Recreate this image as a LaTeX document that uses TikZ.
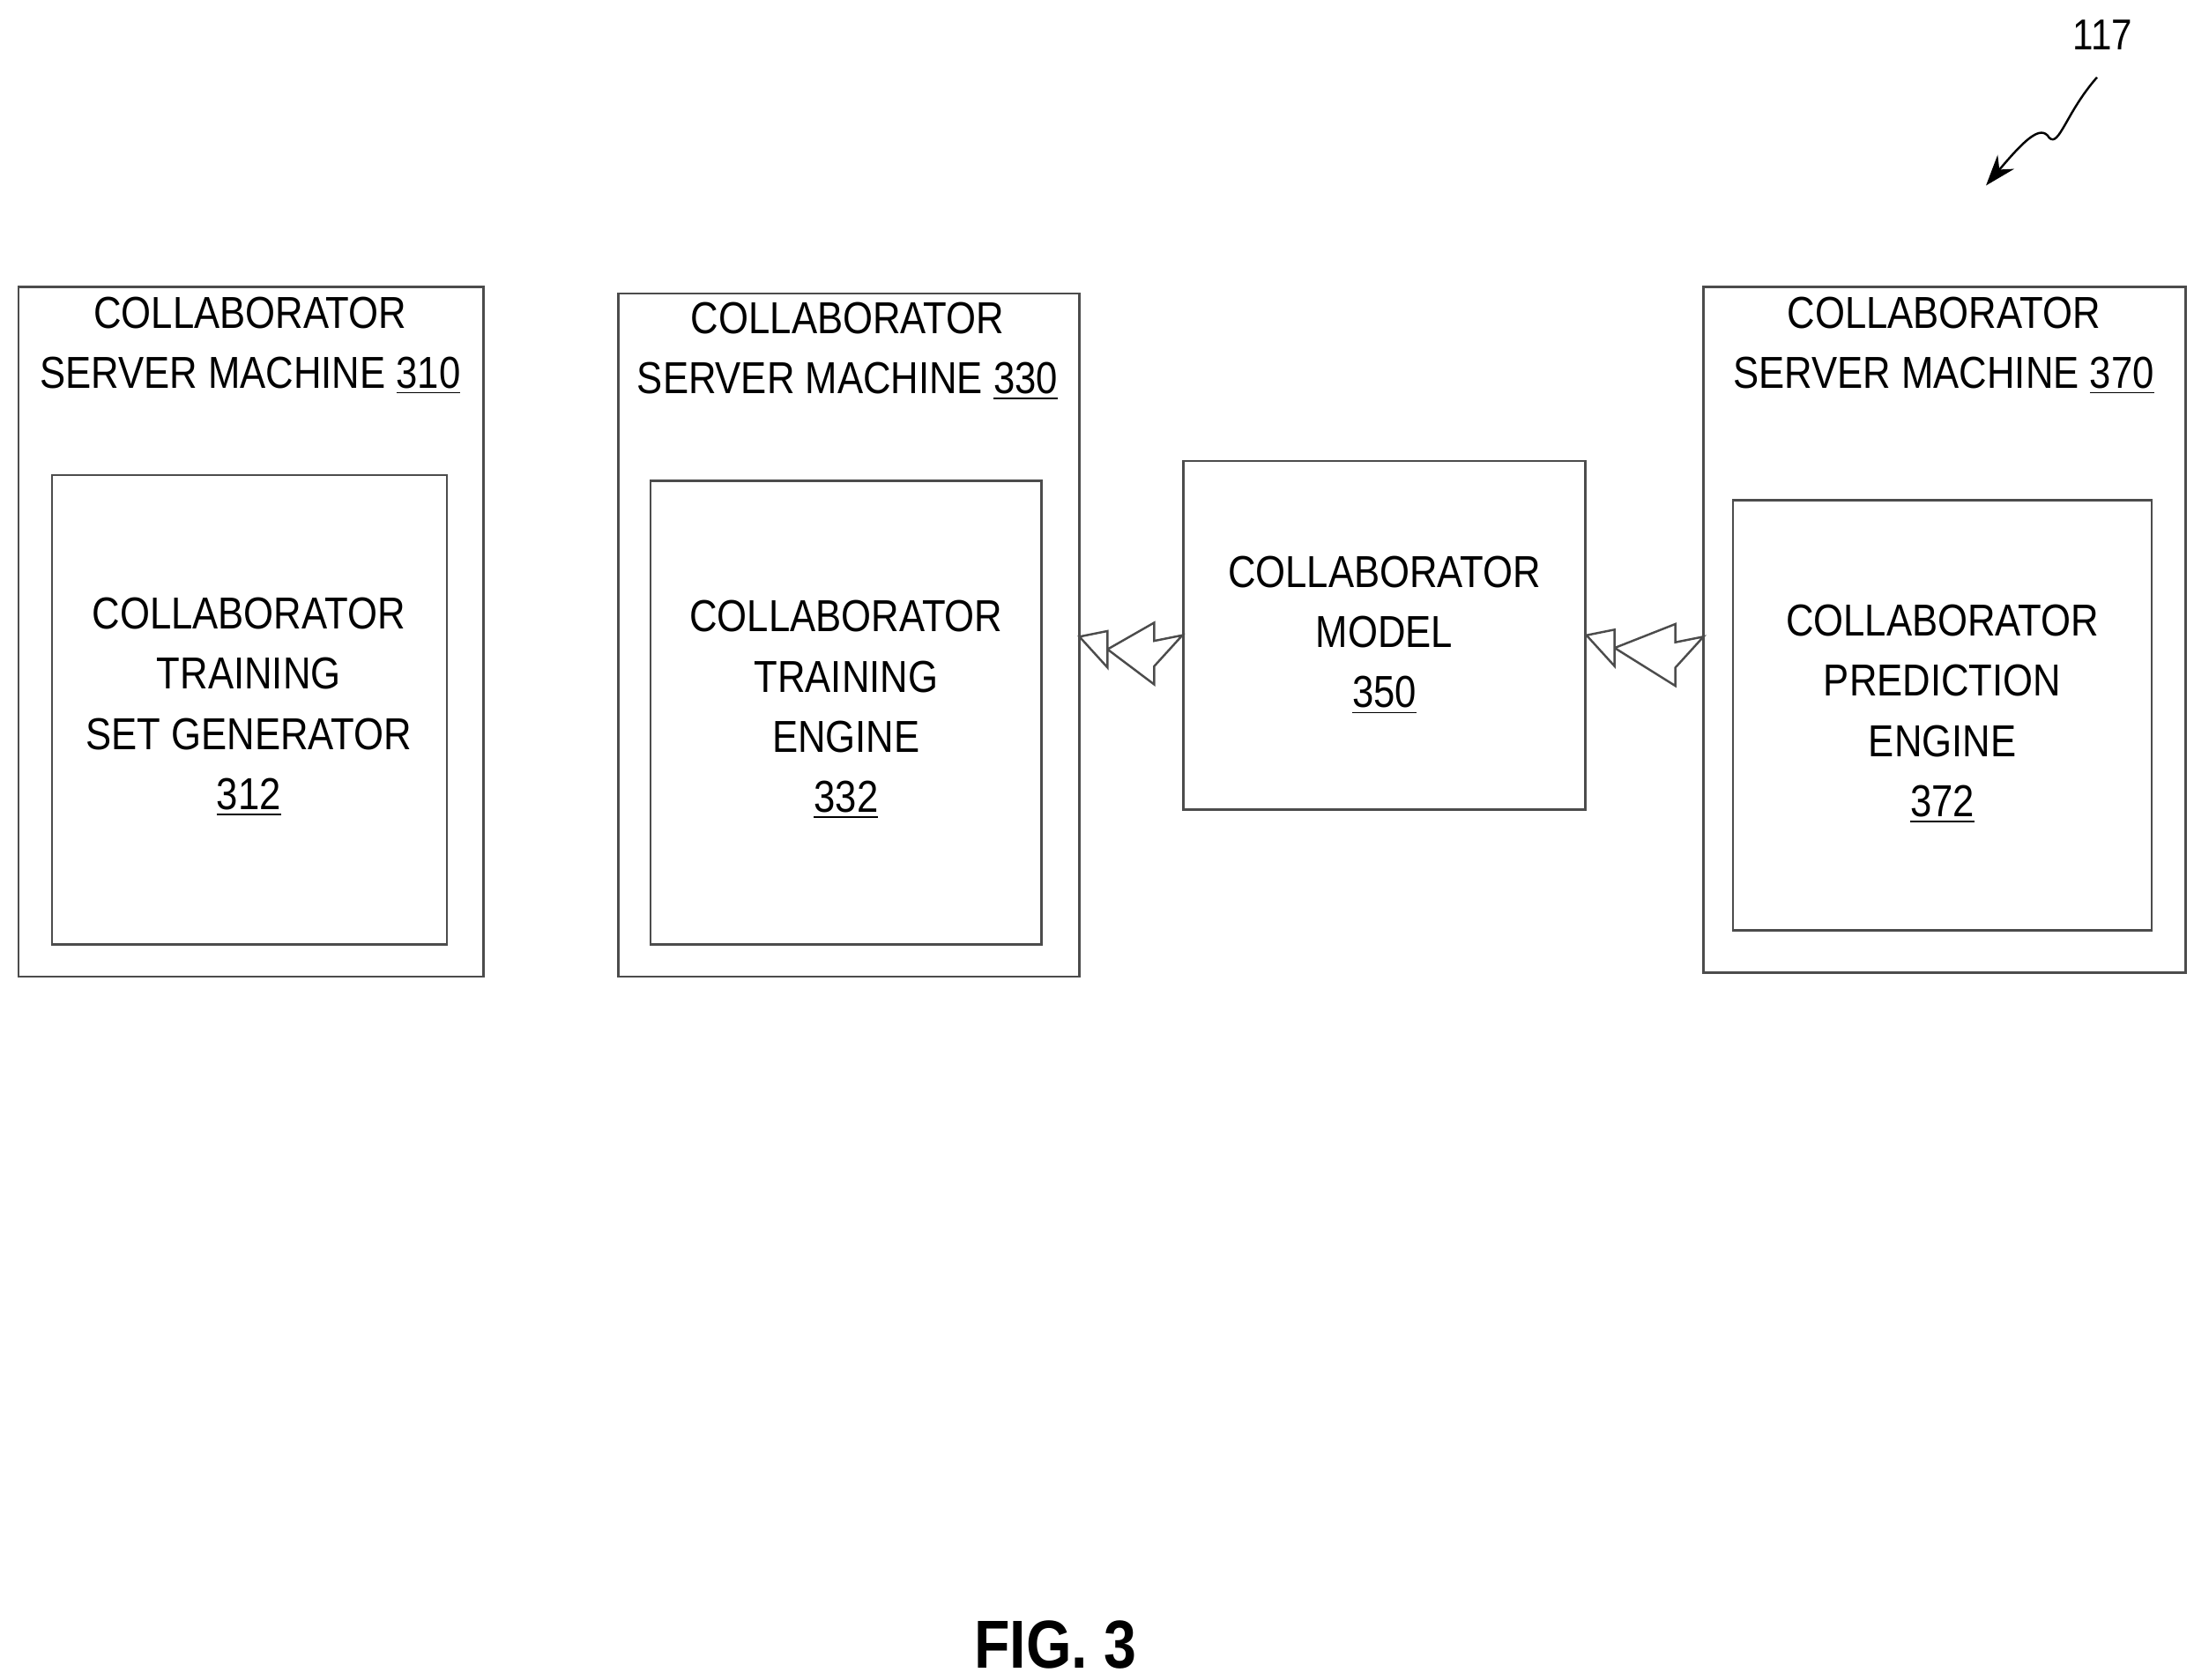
\documentclass[tikz,border=0pt]{standalone}
\usepackage{fontspec}
\setmainfont[FakeStretch=0.86]{Liberation Sans}
\usetikzlibrary{positioning,calc,arrows.meta}
\tikzset{
  box/.style={draw=black!70, line width=0.7pt},
  lbl/.style={align=center, font=\fontsize{14.5}{19.5}\selectfont},
  link/.style={draw=black!70, line width=0.7pt, fill=white}
}
\begin{document}
\begin{tikzpicture}[x=0.016cm, y=-0.016cm]
\useasboundingbox (0,0) rectangle (1561,1195);
% server machines
\draw[box] (13,204) rectangle (344,695);
\draw[box] (37,338) rectangle (318,672);
\draw[box] (440,209) rectangle (768,695);
\draw[box] (463,342) rectangle (741,672);
\draw[box] (1212,204) rectangle (1555,692);
\draw[box] (1233,356) rectangle (1531,662);
\node[box, minimum width=286*0.016cm, minimum height=248*0.016cm] (m350) at (985,452) {};
\coordinate (s330) at (768,453);
\coordinate (s370) at (1212,453);
% labels
\node[lbl] (t310) at (178,246) {COLLABORATOR\\SERVER MACHINE \underline{310}};
\node[lbl] (t330) at (603,250) {COLLABORATOR\\SERVER MACHINE \underline{330}};
\node[lbl] (t370) at (1383,246) {COLLABORATOR\\SERVER MACHINE \underline{370}};
\node[lbl] (g312) at (177,503) {COLLABORATOR\\TRAINING\\SET GENERATOR\\\underline{312}};
\node[lbl] (e332) at (602,505) {COLLABORATOR\\TRAINING\\ENGINE\\\underline{332}};
\node[lbl] (p372) at (1382,508) {COLLABORATOR\\PREDICTION\\ENGINE\\\underline{372}};
\node[lbl] at (m350) {COLLABORATOR\\MODEL\\\underline{350}};
% double arrows
\foreach \a/\b in {s330/m350.west, m350.east/s370}{
  \path let \p1=(\a), \p2=(\b) in
    [link] (\x1,\y1) -- ++(20*0.016cm,-22*0.016cm) -- ++(0,13*0.016cm)
      -- ($(\x2,\y2)+(-20,-9)$) -- ++(0,-13*0.016cm) -- (\x2,\y2)
      -- ++(-20*0.016cm,-22*0.016cm) -- ++(0,-13*0.016cm)
      -- ($(\x1,\y1)+(20,9)$) -- ++(0,13*0.016cm) -- cycle;
}
% reference numeral
\node[font=\fontsize{14}{16}\selectfont] (n117) at (1496,25) {117};
\draw[-{Stealth[length=10pt,width=7pt]}, line width=0.7pt] (1492,55) .. controls (1470,80) and (1465,105) .. (1458,98) .. controls (1452,88) and (1440,100) .. (1413,132);
\node[font=\bfseries\fontsize{22}{24}\selectfont] (fig) at (751,1170) {FIG. 3};
\end{tikzpicture}
\end{document}
